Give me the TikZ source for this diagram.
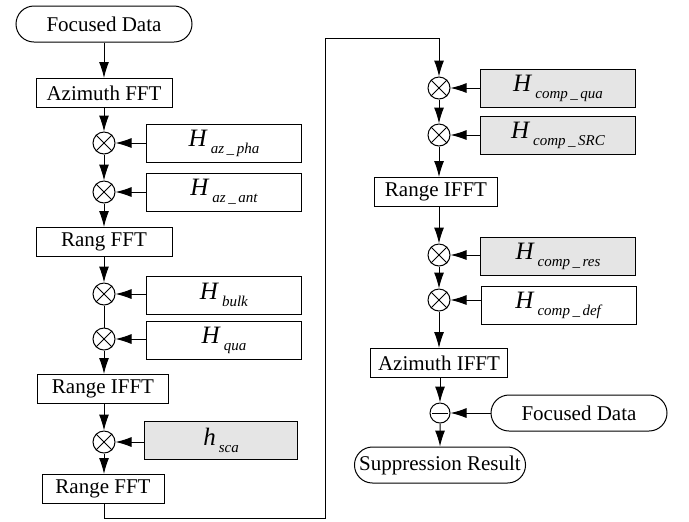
\documentclass[tikz,border=0pt]{standalone}
\usepackage{fontspec}
\setmainfont{Liberation Serif}
\usetikzlibrary{shapes.misc,arrows.meta}
\tikzset{
  arr/.style={-{Latex[length=8pt,width=5pt]}},
  procbox/.style={draw,rectangle,minimum height=14.5pt,inner sep=1pt},
  filtbox/.style={draw,rectangle,minimum width=77.5pt,minimum height=19pt,inner sep=1pt},
  grayfilt/.style={filtbox,fill=gray!20},
  termbox/.style={draw,rounded rectangle,minimum height=18pt,inner sep=1pt},
  mult/.style={draw,circle,minimum size=11pt,inner sep=0pt},
  subt/.style={draw,circle,minimum size=10pt,inner sep=0pt}
}
\newcommand{\Hlab}[2]{{\fontsize{12.5}{14}\selectfont\textit{#1}}\kern1.5pt\raisebox{-3.5pt}{\fontsize{7.5}{8}\selectfont\textit{#2}}}
\begin{document}
\begin{tikzpicture}[x=0.5pt,y=-0.5pt,line width=0.5pt,font=\fontsize{10.5}{12}\selectfont]
\useasboundingbox (0,0) rectangle (689,521);
% left column
\node[termbox,minimum width=90pt] (fd) at (104,24) {Focused Data};
\node[procbox,minimum width=68pt] (afft) at (104,93) {Azimuth FFT};
\node[mult] (m1) at (104,143) {};
\node[filtbox] (hpha) at (224,143) {\Hlab{H}{az\,\_\,pha}};
\node[mult] (m2) at (104,192) {};
\node[filtbox] (hant) at (224,192) {\Hlab{H}{az\,\_\,ant}};
\node[procbox,minimum width=68pt] (rfft) at (104,242) {Rang FFT};
\node[mult] (m3) at (104,294) {};
\node[filtbox] (hbulk) at (224,295) {\Hlab{H}{bulk}};
\node[mult] (m4) at (104,339) {};
\node[filtbox] (hqua) at (224,340) {\Hlab{H}{qua}};
\node[procbox,minimum width=65.5pt] (rifft) at (103,389) {Range IFFT};
\node[mult] (m5) at (104,442) {};
\node[grayfilt,minimum width=76.5pt] (hsca) at (221,440) {\Hlab{h}{sca}};
\node[procbox,minimum width=61pt] (rfft2) at (103,489) {Range FFT};

% right column
\node[mult] (m6) at (439,88) {};
\node[grayfilt] (hcqua) at (558,88) {\Hlab{H}{comp\,\_\,qua}};
\node[mult] (m7) at (439,135) {};
\node[grayfilt] (hcsrc) at (558,135) {\Hlab{H}{comp\,\_\,SRC}};
\node[procbox,minimum width=61.5pt] (rifft2) at (436,192) {Range IFFT};
\node[mult] (m8) at (439,255) {};
\node[grayfilt] (hcres) at (558,256) {\Hlab{H}{comp\,\_\,res}};
\node[mult] (m9) at (439,300) {};
\node[filtbox] (hcdef) at (559,305) {\Hlab{H}{comp\,\_\,def}};
\node[procbox,minimum width=68.5pt] (aifft) at (439,363) {Azimuth IFFT};
\node[subt] (mn) at (440,413) {};
\node[termbox,minimum width=90pt] (fd2) at (579,413) {Focused Data};
\node[termbox,minimum width=85pt] (sup) at (440,465) {Suppression Result};

% crosses and minus sign
\foreach \m in {m1,m2,m3,m4,m5,m6,m7,m8,m9}{
  \draw (\m.north east) -- (\m.south west);
  \draw (\m.north west) -- (\m.south east);
}
\draw[shorten <=1.2pt,shorten >=1.2pt] (mn.west) -- (mn.east);

% left flow
\draw[arr] (fd) -- (afft);
\draw[arr] (afft) -- (m1);
\draw[arr] (m1) -- (m2);
\draw[arr] (m2) -- (rfft);
\draw[arr] (rfft) -- (m3);
\draw (m3) -- (m4);
\draw[arr] (m4) -- (rifft.north -| m4);
\draw[arr] (rifft.south -| m5) -- (m5);
\draw[arr] (m5) -- (rfft2.north -| m5);
\draw[arr] (hpha) -- (m1);
\draw[arr] (hant) -- (m2);
\draw[arr] (hbulk.west |- m3) -- (m3);
\draw[arr] (hqua.west |- m4) -- (m4);
\draw[arr] (hsca.west |- m5) -- (m5);

% link to right column
\coordinate (c1) at (104,518);
\coordinate (c2) at (325,38);
\draw[arr] (rfft2.south -| c1) -- (c1) -| (c2) -| (m6.north);

% right flow
\draw[arr] (m6) -- (m7);
\draw[arr] (m7) -- (rifft2.north -| m7);
\draw[arr] (rifft2.south -| m8) -- (m8);
\draw[arr] (m8) -- (m9);
\draw[arr] (m9) -- (aifft.north -| m9);
\draw[arr] (aifft.south -| mn) -- (mn);
\draw[arr] (mn) -- (sup);
\draw[arr] (hcqua) -- (m6);
\draw[arr] (hcsrc) -- (m7);
\draw[arr] (hcres.west |- m8) -- (m8);
\draw[arr] (hcdef.west |- m9) -- (m9);
\draw[arr] (fd2) -- (mn);
\end{tikzpicture}
\end{document}
